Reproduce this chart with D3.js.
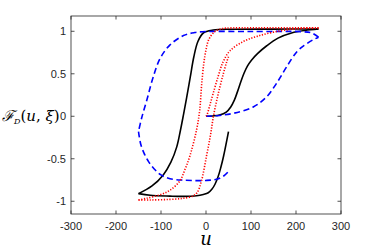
<!DOCTYPE html>
<html>
<head>
<meta charset="utf-8">
<script src="https://cdn.jsdelivr.net/npm/d3@7"></script>
<style>
  html, body { margin: 0; padding: 0; background: #fff; }
  svg { display: block; }
</style>
</head>
<body>
<svg id="chart" width="374" height="246"></svg>
<script>
// axis ticks
const xTicks = [-300, -200, -100, 0, 100, 200, 300];
const yTicks = [-1, -0.5, 0, 0.5, 1];

// black solid: initial, descending, ascending branches  [u, F]
const blackInit = [[0, 0], [15, 0.004], [30, 0.015], [45, 0.05], [55, 0.11], [63, 0.19], [70, 0.29], [77, 0.4], [84, 0.5], [92, 0.59], [101, 0.66], [115, 0.74], [135, 0.83], [160, 0.92], [190, 0.98], [220, 1.01], [250, 1.027]];
const blackDown = [[250, 1.027], [150, 1.026], [60, 1.024], [16, 1.015], [-6, 0.98], [-18, 0.88], [-27, 0.7], [-35, 0.46], [-43, 0.22], [-50, 0.02], [-57, -0.17], [-65, -0.36], [-78, -0.54], [-95, -0.69], [-120, -0.82], [-150, -0.91]];
const blackUp = [[-150, -0.91], [-124, -0.93], [-80, -0.94], [-50, -0.943], [-21, -0.935], [-6, -0.92], [5, -0.9], [13, -0.86], [20, -0.8], [27, -0.71], [33, -0.6], [39, -0.47], [50, -0.18]];

// blue dashed
const blueInit = [[0, 0], [30, 0.01], [61, 0.035], [105, 0.11], [135, 0.23], [157, 0.39], [179, 0.58], [202, 0.76], [220, 0.84], [238, 0.9], [250, 0.93]];
const blueDown = [[250, 0.93], [235, 0.98], [215, 0.995], [100, 0.997], [0, 0.997], [-25, 0.985], [-50, 0.95], [-80, 0.84], [-102, 0.68], [-118, 0.45], [-131, 0.2], [-143, -0.02], [-150, -0.18]];
const blueUp = [[-150, -0.18], [-145, -0.33], [-138, -0.43], [-128, -0.53], [-115, -0.62], [-100, -0.69], [-80, -0.735], [-50, -0.752], [0, -0.755], [24, -0.74], [40, -0.7], [50, -0.65]];

// red dotted
const redInit = [[0, 0], [2, 0.015], [9, 0.14], [16, 0.27], [27, 0.47], [38, 0.64], [53, 0.77], [83, 0.88], [113, 0.94], [150, 0.99], [200, 1.03], [250, 1.04]];
const redDown = [[250, 1.04], [120, 1.04], [45, 1.037], [31, 1.025], [18, 0.99], [6, 0.9], [0, 0.78], [-5, 0.62], [-10, 0.35], [-14, 0.07], [-21, -0.16], [-36, -0.47], [-47, -0.63], [-58, -0.76], [-80, -0.87], [-100, -0.92], [-132, -0.965], [-150, -0.985]];
const redUp = [[-150, -0.985], [-124, -0.985], [-80, -0.978], [-50, -0.965], [-30, -0.94], [-20, -0.9], [-10, -0.76], [1, -0.47], [10, -0.22], [17, 0.015], [27, 0.26], [38, 0.49], [46, 0.64], [50, 0.7]];

const svg = d3.select("#chart");
const m = { left: 71, right: 341, top: 16, bottom: 214 };
const axisColor = "#262626";

const x = d3.scaleLinear().domain([-300, 300]).range([m.left, m.right]);
const y = d3.scaleLinear().domain([-1.15, 1.18]).range([m.bottom, m.top]);

const clip = svg.append("defs").append("clipPath").attr("id", "plotclip");
clip.append("rect").attr("x", m.left).attr("y", m.top).attr("width", m.right - m.left).attr("height", m.bottom - m.top);

const line = d3.line()
  .x(d => x(d[0]))
  .y(d => y(d[1]))
  .curve(d3.curveCatmullRom.alpha(0.5));

const plot = svg.append("g").attr("clip-path", "url(#plotclip)");

function drawBranch(data, color, dash) {
  plot.append("path")
    .datum(data)
    .attr("d", line)
    .attr("fill", "none")
    .attr("stroke", color)
    .attr("stroke-width", 1.6)
    .attr("stroke-dasharray", dash);
}

[blackInit, blackDown, blackUp].forEach(d => drawBranch(d, "#000", null));
[blueInit, blueDown, blueUp].forEach(d => drawBranch(d, "#0000ff", "6,3.5"));
[redInit, redDown, redUp].forEach(d => drawBranch(d, "#ff0000", "1.2,1.6"));

// frame with inward ticks on all four sides
const frame = svg.append("g");
frame.append("rect")
  .attr("x", m.left).attr("y", m.top)
  .attr("width", m.right - m.left).attr("height", m.bottom - m.top)
  .attr("fill", "none")
  .attr("stroke", axisColor)
  .attr("stroke-width", 0.8);

const tickLen = 3.5;
xTicks.forEach(t => {
  const px = x(t);
  frame.append("line").attr("x1", px).attr("x2", px).attr("y1", m.bottom).attr("y2", m.bottom - tickLen);
  frame.append("line").attr("x1", px).attr("x2", px).attr("y1", m.top).attr("y2", m.top + tickLen);
  frame.append("text")
    .attr("x", px).attr("y", m.bottom + 15.5)
    .attr("text-anchor", "middle")
    .text(t);
});
yTicks.forEach(t => {
  const py = y(t);
  frame.append("line").attr("x1", m.left).attr("x2", m.left + tickLen).attr("y1", py).attr("y2", py);
  frame.append("line").attr("x1", m.right).attr("x2", m.right - tickLen).attr("y1", py).attr("y2", py);
  frame.append("text")
    .attr("x", m.left - 5).attr("y", py + 4)
    .attr("text-anchor", "end")
    .text(t);
});
frame.selectAll("line").attr("stroke", axisColor).attr("stroke-width", 0.8);
frame.selectAll("text")
  .attr("font-family", "Liberation Sans, Arial, sans-serif")
  .attr("font-size", 11)
  .attr("fill", axisColor);

// axis labels
svg.append("text")
  .attr("x", x(0)).attr("y", 245)
  .attr("text-anchor", "middle")
  .attr("font-family", "DejaVu Serif, serif")
  .attr("font-style", "italic")
  .attr("font-size", 18)
  .attr("fill", "#000")
  .text("u");

const ylab = svg.append("text")
  .attr("x", 2).attr("y", y(0) + 5)
  .attr("font-family", "DejaVu Serif, serif")
  .attr("font-size", 15)
  .attr("fill", "#000");
ylab.append("tspan").attr("font-style", "italic").text("\u2131");
ylab.append("tspan").attr("font-size", 8).attr("dy", 3).attr("font-style", "italic").text("D");
ylab.append("tspan").attr("dy", -3).text("(");
ylab.append("tspan").attr("font-style", "italic").text("u");
ylab.append("tspan").text(", ");
ylab.append("tspan").attr("font-style", "italic").text("\u03BE");
ylab.append("tspan").text(")");
</script>
</body>
</html>
